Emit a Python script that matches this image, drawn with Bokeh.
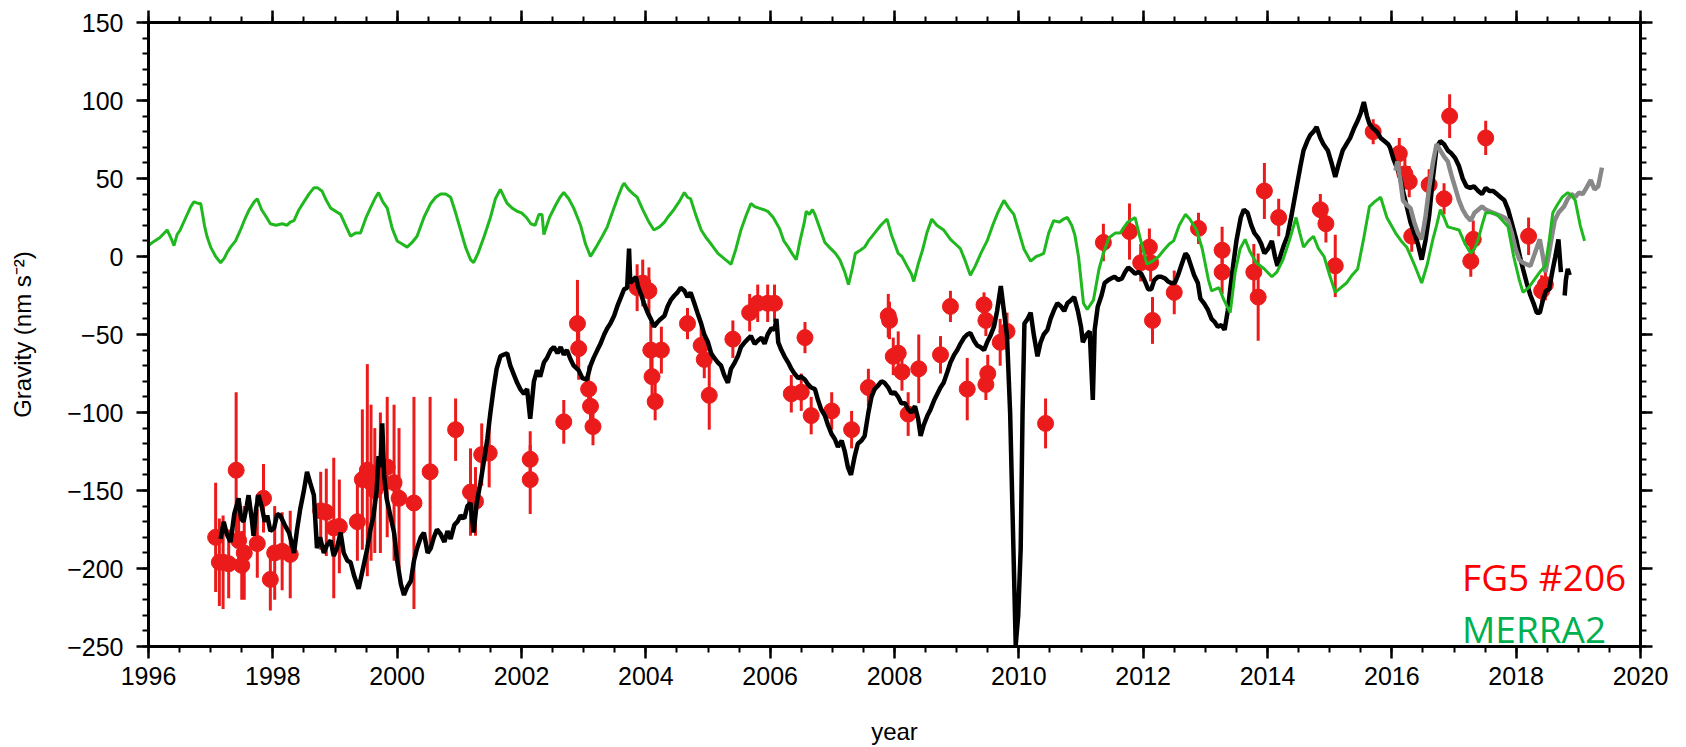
import math
from bokeh.plotting import figure
from bokeh.models import (Range1d, SingleIntervalTicker, LinearAxis, Label,
                          CustomJSTickFormatter, ColumnDataSource)
from bokeh.embed import file_html
from bokeh.resources import INLINE

NaN = float("nan")

# ---------------- data ----------------
merra_year = [1996.00, 1996.03, 1996.10, 1996.18, 1996.30, 1996.36, 1996.41, 1996.46, 1996.51, 1996.60,
              1996.68, 1996.73, 1996.80, 1996.84, 1996.90, 1996.94, 1997.00, 1997.08, 1997.16, 1997.22,
              1997.27, 1997.32, 1997.40, 1997.48, 1997.55, 1997.62, 1997.70, 1997.75, 1997.82, 1997.90,
              1997.96, 1998.05, 1998.15, 1998.23, 1998.28, 1998.34, 1998.42, 1998.50, 1998.58, 1998.66,
              1998.72, 1998.79, 1998.86, 1998.93, 1999.01, 1999.09, 1999.17, 1999.25, 1999.33, 1999.41,
              1999.50, 1999.58, 1999.64, 1999.70, 1999.77, 1999.84, 1999.92, 2000.00, 2000.08, 2000.16,
              2000.24, 2000.32, 2000.43, 2000.54, 2000.62, 2000.70, 2000.78, 2000.86, 2000.94, 2001.02,
              2001.10, 2001.18, 2001.23, 2001.30, 2001.40, 2001.50, 2001.58, 2001.66, 2001.72, 2001.77,
              2001.85, 2001.93, 2002.00, 2002.08, 2002.15, 2002.22, 2002.28, 2002.33, 2002.36, 2002.45,
              2002.55, 2002.62, 2002.68, 2002.76, 2002.84, 2002.95, 2003.03, 2003.11, 2003.20, 2003.30,
              2003.38, 2003.46, 2003.55, 2003.62, 2003.65, 2003.72, 2003.80, 2003.86, 2003.95, 2004.05,
              2004.13, 2004.22, 2004.30, 2004.35, 2004.45, 2004.55, 2004.62, 2004.67, 2004.72, 2004.80,
              2004.89, 2004.97, 2005.05, 2005.16, 2005.25, 2005.31, 2005.37, 2005.45, 2005.53, 2005.61,
              2005.69, 2005.75, 2005.82, 2005.90, 2005.96, 2006.05, 2006.15, 2006.22, 2006.29, 2006.35,
              2006.42, 2006.48, 2006.55, 2006.58, 2006.63, 2006.68, 2006.72, 2006.80, 2006.88, 2006.95,
              2007.05, 2007.12, 2007.20, 2007.26, 2007.32, 2007.37, 2007.45, 2007.52, 2007.58, 2007.68,
              2007.78, 2007.88, 2007.95, 2008.06, 2008.12, 2008.20, 2008.27, 2008.31, 2008.38, 2008.45,
              2008.52, 2008.60, 2008.68, 2008.79, 2008.90, 2008.98, 2009.06, 2009.14, 2009.22, 2009.30,
              2009.40, 2009.49, 2009.58, 2009.66, 2009.76, 2009.84, 2009.92, 2010.00, 2010.08, 2010.19,
              2010.28, 2010.35, 2010.40, 2010.48, 2010.56, 2010.65, 2010.72, 2010.78, 2010.85, 2010.90,
              2010.96, 2011.04, 2011.10, 2011.20, 2011.29, 2011.36, 2011.45, 2011.55, 2011.63, 2011.75,
              2011.87, 2011.95, 2012.06, 2012.15, 2012.25, 2012.33, 2012.42, 2012.49, 2012.58, 2012.68,
              2012.75, 2012.86, 2012.95, 2013.05, 2013.10, 2013.22, 2013.30, 2013.40, 2013.48, 2013.56,
              2013.64, 2013.72, 2013.82, 2013.95, 2014.07, 2014.15, 2014.25, 2014.35, 2014.46, 2014.52,
              2014.58, 2014.66, 2014.74, 2014.82, 2014.91, 2015.00, 2015.09, 2015.18, 2015.27, 2015.36,
              2015.45, 2015.54, 2015.64, 2015.72, 2015.82, 2015.92, 2016.06, 2016.15, 2016.24, 2016.36,
              2016.48, 2016.57, 2016.66, 2016.72, 2016.78, 2016.84, 2016.90, 2016.99, 2017.08, 2017.18,
              2017.27, 2017.33, 2017.39, 2017.45, 2017.51, 2017.60, 2017.69, 2017.78, 2017.87, 2017.96,
              2018.05, 2018.11, 2018.20, 2018.29, 2018.38, 2018.47, 2018.53, 2018.59, 2018.66, 2018.74,
              2018.83, 2018.89, 2018.95, 2019.03, 2019.10]
merra_val = [7, 8, 10, 12, 17, 12, 7, 14, 17, 25,
             32, 35, 34, 34, 20, 13, 6, 0, -4, -1,
             3, 6, 10, 17, 24, 30, 35, 37, 30, 25,
             21, 20, 21, 20, 22, 23, 30, 35, 40, 44,
             44, 42, 36, 31, 29, 27, 20, 13, 15, 15,
             25, 32, 37, 41, 35, 31, 18, 10, 8, 6,
             9, 13, 25, 34, 38, 40, 40, 38, 28, 17,
             6, -2, -4, 2, 13, 25, 37, 43, 38, 34,
             31, 29, 28, 25, 21, 20, 27, 27, 14, 25,
             33, 38, 41, 37, 31, 20, 8, 0, 6, 13,
             19, 28, 38, 45, 47, 43, 40, 38, 30, 22,
             17, 19, 22, 25, 30, 36, 41, 38, 37, 27,
             17, 12, 8, 2, -1, -3, -5, 5, 17, 26,
             34, 32, 31, 30, 29, 25, 18, 10, 6, 2,
             -2, 10, 22, 29, 27, 30, 27, 18, 9, 6,
             2, -2, -10, -18, -8, 2, 4, 6, 10, 15,
             20, 24, 14, 2, 0, -6, -11, -16, -5, 4,
             15, 24, 20, 17, 11, 8, 5, -3, -12, -6,
             3, 10, 20, 28, 36, 31, 27, 16, 5, -3,
             0, 1, 2, 15, 23, 22, 24, 25, 20, 14,
             0, -30, -34, -28, -8, 2, 12, 15, 15, 22,
             25, 12, -5, -3, 0, 4, 8, 10, 20, 27,
             24, 17, 5, -15, -22, -20, -28, -36, -10, 5,
             11, 3, -4, -8, -13, -10, -2, 10, 25, 15,
             6, 10, 13, 5, 0, -12, -23, -20, -17, -12,
             -8, 10, 32, 35, 38, 25, 15, 10, 6, -5,
             -17, -5, 11, 20, 30, 25, 19, 18, 17, 8,
             2, 5, 11, 20, 28, 28, 27, 23, 19, 0,
             -15, -23, -20, -15, -10, -6, 10, 28, 33, 38,
             41, 39, 36, 20, 10]

sg_year = [1997.16, 1997.21, 1997.26, 1997.32, 1997.38, 1997.45, 1997.49, 1997.53, 1997.58, 1997.61,
           1997.66, 1997.69, 1997.73, 1997.77, 1997.82, 1997.87, 1997.91, 1997.96, 1998.02, 1998.07,
           1998.12, 1998.19, 1998.26, 1998.30, 1998.34, 1998.39, 1998.44, 1998.50, 1998.55, 1998.60,
           1998.66, 1998.71, 1998.76, 1998.82, 1998.87, 1998.93, 1998.98, 1999.03, 1999.09, 1999.14,
           1999.20, 1999.25, 1999.31, 1999.38, 1999.45, 1999.52, 1999.57, 1999.62, 1999.67, 1999.70,
           1999.73, 1999.76, 1999.79, 1999.83, 1999.90, 1999.95, 2000.00, 2000.06, 2000.11, 2000.16,
           2000.22, 2000.27, 2000.32, 2000.38, 2000.43, 2000.49, 2000.54, 2000.59, 2000.64, 2000.70,
           2000.76, 2000.81, 2000.86, 2000.92, 2000.97, 2001.02, 2001.08, 2001.13, 2001.18, 2001.23,
           2001.28, 2001.34, 2001.40, 2001.45, 2001.50, 2001.55, 2001.60, 2001.66, 2001.71, 2001.77,
           2001.82, 2001.88, 2001.93, 2001.98, 2002.04, 2002.09, 2002.14, 2002.20, 2002.25, 2002.30,
           2002.36, 2002.41, 2002.47, 2002.52, 2002.58, 2002.63, 2002.68, 2002.73, 2002.79, 2002.84,
           2002.92, 2002.98, 2003.05, 2003.11, 2003.16, 2003.22, 2003.27, 2003.33, 2003.38, 2003.43,
           2003.49, 2003.54, 2003.60, 2003.65, 2003.70, 2003.73, 2003.75, 2003.80, 2003.84, 2003.88,
           2003.93, 2003.97, 2004.03, 2004.08, 2004.13, 2004.19, 2004.24, 2004.30, 2004.35, 2004.40,
           2004.46, 2004.51, 2004.56, 2004.62, 2004.67, 2004.72, 2004.78, 2004.83, 2004.89, 2004.94,
           2005.00, 2005.05, 2005.10, 2005.16, 2005.21, 2005.26, 2005.32, 2005.37, 2005.43, 2005.48,
           2005.53, 2005.59, 2005.64, 2005.69, 2005.75, 2005.80, 2005.86, 2005.91, 2005.96, 2006.02,
           2006.07, 2006.10, 2006.13, 2006.18, 2006.23, 2006.29, 2006.34, 2006.39, 2006.45, 2006.50,
           2006.56, 2006.61, 2006.66, 2006.72, 2006.77, 2006.82, 2006.88, 2006.93, 2006.99, 2007.04,
           2007.09, 2007.15, 2007.20, 2007.25, 2007.30, 2007.36, 2007.41, 2007.47, 2007.52, 2007.58,
           2007.63, 2007.68, 2007.73, 2007.79, 2007.84, 2007.90, 2007.95, 2008.00, 2008.06, 2008.11,
           2008.17, 2008.22, 2008.27, 2008.33, 2008.38, 2008.42, 2008.47, 2008.53, 2008.58, 2008.64,
           2008.69, 2008.74, 2008.79, 2008.85, 2008.90, 2008.96, 2009.01, 2009.06, 2009.12, 2009.17,
           2009.22, 2009.28, 2009.33, 2009.38, 2009.44, 2009.49, 2009.54, 2009.60, 2009.65, 2009.71,
           2009.76, 2009.81, 2009.86, 2009.90, 2009.95, 2009.99, 2010.03, 2010.06, 2010.09, 2010.14,
           2010.19, 2010.24, 2010.30, 2010.35, 2010.40, 2010.46, 2010.51, 2010.57, 2010.62, 2010.68,
           2010.73, 2010.78, 2010.84, 2010.89, 2010.95, 2011.00, 2011.03, 2011.09, 2011.14, 2011.19,
           2011.22, 2011.27, 2011.33, 2011.38, 2011.44, 2011.49, 2011.54, 2011.60, 2011.66, 2011.71,
           2011.76, 2011.82, 2011.87, 2011.92, 2011.97, 2012.03, 2012.08, 2012.13, 2012.18, 2012.24,
           2012.29, 2012.35, 2012.40, 2012.45, 2012.51, 2012.56, 2012.62, 2012.68, 2012.72, 2012.77,
           2012.82, 2012.88, 2012.92, 2012.98, 2013.04, 2013.10, 2013.15, 2013.20, 2013.26, 2013.31,
           2013.36, 2013.40, 2013.45, 2013.50, 2013.57, 2013.62, 2013.68, 2013.74, 2013.79, 2013.85,
           2013.90, 2013.95, 2014.01, 2014.07, 2014.12, 2014.16, 2014.22, 2014.27, 2014.32, 2014.38,
           2014.43, 2014.48, 2014.53, 2014.58, 2014.64, 2014.69, 2014.74, 2014.79, 2014.85, 2014.90,
           2014.97, 2015.03, 2015.09, 2015.15, 2015.21, 2015.27, 2015.33, 2015.39, 2015.45, 2015.50,
           2015.55, 2015.60, 2015.64, 2015.70, 2015.76, 2015.82, 2015.88, 2015.94, 2015.97, 2016.03,
           2016.08, 2016.12, 2016.18, 2016.24, 2016.30, 2016.36, 2016.42, 2016.48, 2016.54, 2016.60,
           2016.66, 2016.72, 2016.78, 2016.84, 2016.90, 2016.96, 2017.02, 2017.08, 2017.14, 2017.20,
           2017.26, 2017.32, 2017.39, 2017.45, 2017.51, 2017.57, 2017.63, 2017.69, 2017.75, 2017.81,
           2017.87, 2017.94, 2018.00, 2018.06, 2018.11, 2018.17, 2018.23, 2018.28, 2018.33, 2018.38,
           2018.43, 2018.48, 2018.53, 2018.58, 2018.63, 2018.68, 2018.72, 2018.75, 2018.78, 2018.80,
           2018.83, 2018.86]
sg_val = [-181, -170, -178, -183, -165, -155, -168, -170, -160, -153,
          -168, -179, -162, -153, -160, -170, -166, -176, -174, -165,
          -166, -172, -177, -183, -190, -175, -162, -150, -138, -145,
          -153, -187, -180, -190, -185, -182, -192, -187, -177, -190,
          -195, -196, -205, -213, -200, -187, -175, -166, -150, -128,
          -135, -107, -140, -155, -168, -177, -195, -210, -217, -212,
          -208, -195, -187, -180, -177, -190, -187, -180, -175, -178,
          -183, -176, -181, -172, -170, -166, -168, -160, -158, -177,
          -158, -145, -130, -117, -100, -85, -72, -64, -63, -62,
          -70, -76, -81, -85, -88, -85, -104, -80, -73, -77,
          -68, -65, -60, -58, -62, -58, -63, -60, -66, -70,
          -73, -78, -79, -70, -65, -60, -56, -50, -46, -43,
          -38, -32, -26, -21, -20, 5, -17, -15, -13, -20,
          -25, -30, -36, -40, -45, -42, -40, -38, -32, -28,
          -25, -23, -20, -22, -26, -23, -30, -36, -43, -50,
          -55, -62, -65, -68, -70, -76, -81, -72, -68, -64,
          -58, -55, -53, -51, -56, -54, -52, -56, -50, -46,
          -47, -40, -55, -60, -64, -68, -72, -75, -78, -77,
          -79, -82, -84, -85, -92, -98, -102, -108, -114, -117,
          -122, -118, -125, -135, -140, -128, -120, -118, -115, -100,
          -90, -85, -83, -80, -81, -84, -88, -87, -90, -94,
          -94, -98, -100, -96, -104, -115, -108, -102, -98, -92,
          -88, -84, -81, -74, -68, -63, -60, -56, -52, -50,
          -49, -54, -57, -58, -60, -55, -51, -45, -35, -19,
          -35, -51, -100, -166, -249, -230, -187, -100, -43, -40,
          -36, -50, -64, -55, -50, -47, -40, -34, -30, -32,
          -35, -30, -28, -26, -35, -45, -55, -50, -48, -92,
          -47, -32, -25, -17, -15, -14, -13, -15, -14, -10,
          -7, -9, -11, -10, -11, -16, -21, -21, -15, -13,
          -13, -14, -16, -17, -17, -12, -5, 2, 0, -6,
          -12, -17, -27, -30, -34, -40, -42, -45, -44, -47,
          -35, -21, -5, 10, 25, 30, 28, 20, 15, 12,
          8, 2, 5, 10, 0, -6, 2, 8, 13, 25,
          36, 47, 58, 68, 74, 78, 80, 83, 76, 72,
          68, 60, 51, 60, 68, 72, 76, 82, 87, 92,
          99, 90, 85, 82, 80, 76, 74, 72, 70, 62,
          57, 53, 42, 32, 22, 15, 8, -2, 10, 26,
          50, 70, 74, 72, 68, 66, 63, 58, 50, 45,
          44, 45, 42, 40, 44, 42, 42, 40, 38, 36,
          30, 20, 11, 0, -8, -17, -25, -30, -36, -36,
          -28, -22, -21, -10, 0, 11, -10, NaN, -25, -15,
          -8, -12]

sg2_year = [2016.06, 2016.09, 2016.14, 2016.18, 2016.24, 2016.30, 2016.36, 2016.42, 2016.48, 2016.54,
            2016.60, 2016.66, 2016.72, 2016.78, 2016.84, 2016.90, 2016.96, 2017.02, 2017.08, 2017.14,
            2017.20, 2017.27, 2017.33, 2017.39, 2017.45, 2017.51, 2017.57, 2017.63, 2017.69, 2017.75,
            2017.81, 2017.87, 2017.93, 2017.99, 2018.05, 2018.11, 2018.17, 2018.23, 2018.30, 2018.38,
            2018.43, 2018.47, 2018.52, 2018.57, 2018.62, 2018.68, 2018.77, 2018.83, 2018.89, 2018.95,
            2019.01, 2019.07, 2019.13, 2019.20, 2019.26, 2019.32, 2019.38]
sg2_val = [55, 61, 48, 36, 33, 31, 22, 15, 11, 25,
           44, 60, 72, 68, 64, 61, 52, 44, 36, 30,
           26, 23, 28, 30, 32, 30, 29, 28, 27, 26,
           25, 23, 15, 5, -2, -4, -5, -6, 2, 11,
           0, -10, 0, 12, 23, 28, 32, 37, 40, 38,
           41, 40, 44, 49, 43, 45, 57]

fg5_year = [1997.08, 1997.14, 1997.20, 1997.29, 1997.41, 1997.45, 1997.50, 1997.54, 1997.75, 1997.85,
            1997.96, 1998.03, 1998.15, 1998.28, 1998.77, 1998.86, 1998.98, 1999.07, 1999.36, 1999.44,
            1999.52, 1999.58, 1999.64, 1999.73, 1999.84, 1999.95, 2000.03, 2000.27, 2000.53, 2000.94,
            2001.18, 2001.26, 2001.36, 2001.48, 2002.14, 2002.14, 2002.68, 2002.90, 2002.92, 2003.08,
            2003.11, 2003.15, 2003.86, 2003.95, 2004.05, 2004.08, 2004.10, 2004.15, 2004.25, 2004.67,
            2004.89, 2004.94, 2005.02, 2005.40, 2005.67, 2005.80, 2005.96, 2006.07, 2006.34, 2006.50,
            2006.56, 2006.66, 2006.99, 2007.31, 2007.58, 2007.90, 2007.92, 2007.98, 2008.06, 2008.12,
            2008.22, 2008.39, 2008.74, 2008.90, 2009.17, 2009.44, 2009.47, 2009.47, 2009.50, 2009.70,
            2009.81, 2010.43, 2011.36, 2011.78, 2011.96, 2012.10, 2012.12, 2012.15, 2012.50, 2012.89,
            2013.27, 2013.27, 2013.78, 2013.85, 2013.95, 2014.18, 2014.85, 2014.94, 2015.09, 2015.70,
            2016.12, 2016.21, 2016.28, 2016.32, 2016.60, 2016.84, 2016.93, 2017.27, 2017.31, 2017.51,
            2018.20, 2018.41, 2018.47]
fg5_val = [-180, -196, -196, -197, -137, -182, -198, -190, -184, -155,
           -207, -190, -189, -191, -163, -164, -174, -173, -170, -143,
           -137, -145, -150, -145, -135, -145, -155, -158, -138, -111,
           -151, -157, -127, -126, -130, -143, -106, -43, -59, -85,
           -96, -109, -20, -17, -22, -60, -77, -93, -60, -43,
           -57, -66, -89, -53, -36, -30, -30, -30, -88, -87,
           -52, -102, -99, -111, -84, -38, -41, -64, -62, -74,
           -101, -72, -63, -32, -85, -31, -41, -82, -75, -55,
           -48, -107, 9, 16, -4, 6, -4, -41, -23, 18,
           4, -10, -10, -26, 42, 25, 30, 21, -6, 80,
           66, 53, 48, 13, 46, 37, 90, -3, 11, 76,
           13, -22, -18]
fg5_err = [35, 28, 30, 22, 50, 20, 22, 30, 22, 22,
           20, 30, 25, 28, 25, 28, 45, 30, 25, 45,
           68, 50, 40, 45, 45, 50, 45, 68, 48, 20,
           28, 22, 20, 22, 18, 22, 14, 28, 20, 15,
           14, 12, 15, 15, 15, 18, 14, 12, 15, 10,
           12, 12, 22, 12, 12, 12, 12, 12, 12, 12,
           10, 12, 12, 12, 12, 14, 12, 12, 14, 12,
           14, 22, 12, 10, 20, 8, 10, 10, 12, 15,
           12, 16, 12, 18, 12, 12, 12, 15, 14, 10,
           15, 14, 18, 28, 18, 12, 10, 12, 20, 8,
           10, 10, 10, 10, 10, 10, 14, 10, 12, 11,
           12, 10, 10]

x_ticks_interval = 2
y_ticks_interval = 50
label_fg5 = "FG5 #206"
label_merra = "MERRA2"
x_label = "year"
y_label = "Gravity (nm s\u207b\u00b2)"

# ---------------- figure ----------------
W, H = 1680, 747
BL, BR, BT, BB = 148, 40, 22, 99
p = figure(width=W, height=H, x_range=Range1d(1996, 2020), y_range=Range1d(-250, 150),
           output_backend="svg", toolbar_location=None,
           min_border_left=BL, min_border_right=BR, min_border_top=BT, min_border_bottom=BB)
p.xgrid.visible = False
p.ygrid.visible = False
p.outline_line_color = None
p.background_fill_color = "white"
p.border_fill_color = "white"

fmt = CustomJSTickFormatter(code="return tick < 0 ? '\u2212' + Math.abs(tick) : String(tick);")
blank = CustomJSTickFormatter(code="return '';")

def style_axis(ax, labels=True):
    ax.axis_line_width = 3
    ax.axis_line_color = "black"
    ax.major_tick_line_width = 2.5
    ax.minor_tick_line_width = 2
    ax.major_tick_out = 12
    ax.major_tick_in = 0
    ax.minor_tick_out = 6
    ax.minor_tick_in = 0
    ax.major_tick_line_color = "black"
    ax.minor_tick_line_color = "black"
    if labels:
        ax.major_label_text_font = "Liberation Sans"
        ax.major_label_text_font_size = "25px"
        ax.major_label_text_color = "black"
        ax.formatter = fmt
        ax.axis_label_text_font = "Liberation Sans"
        ax.axis_label_text_font_size = "24px"
        ax.axis_label_text_font_style = "normal"
        ax.axis_label_text_color = "black"
    else:
        ax.formatter = blank
        ax.major_label_standoff = 0

xt = SingleIntervalTicker(interval=x_ticks_interval, num_minor_ticks=4)
yt = SingleIntervalTicker(interval=y_ticks_interval, num_minor_ticks=5)
p.xaxis.ticker = xt
p.yaxis.ticker = yt
style_axis(p.xaxis[0])
style_axis(p.yaxis[0])
p.xaxis[0].major_label_standoff = 8
p.yaxis[0].major_label_standoff = 13
p.xaxis[0].axis_label = x_label
p.xaxis[0].axis_label_standoff = 30
p.yaxis[0].axis_label = y_label
p.yaxis[0].axis_label_standoff = 28

top = LinearAxis(ticker=SingleIntervalTicker(interval=x_ticks_interval, num_minor_ticks=4))
style_axis(top, labels=False)
p.add_layout(top, "above")
right = LinearAxis(ticker=SingleIntervalTicker(interval=y_ticks_interval, num_minor_ticks=5))
style_axis(right, labels=False)
p.add_layout(right, "right")

# FG5 absolute gravity with error bars
fsrc = ColumnDataSource(dict(x=fg5_year, y=fg5_val,
                             lo=[v - e for v, e in zip(fg5_val, fg5_err)],
                             hi=[v + e for v, e in zip(fg5_val, fg5_err)]))
p.segment(x0="x", y0="lo", x1="x", y1="hi", source=fsrc, line_color="#ec1b1b", line_width=3)
p.scatter(x="x", y="y", source=fsrc, size=16, marker="circle",
          fill_color="#ec1b1b", line_color="#ec1b1b")

# superconducting gravimeter
p.line(sg_year, sg_val, line_color="black", line_width=4.5)
p.line(sg2_year, sg2_val, line_color="#888888", line_width=4.5)

# MERRA2
p.line(merra_year, merra_val, line_color="#1fb81f", line_width=3)

# annotations
p.add_layout(Label(x=2017.13, y=-205.2, text=label_fg5, text_color="#ff0000",
                   text_font="Open Sans", text_font_size="37px", text_baseline="alphabetic"))
p.add_layout(Label(x=2017.13, y=-238.2, text=label_merra, text_color="#00b050",
                   text_font="Open Sans", text_font_size="37px", text_baseline="alphabetic"))

open("out.html", "w").write(file_html(p, INLINE))
